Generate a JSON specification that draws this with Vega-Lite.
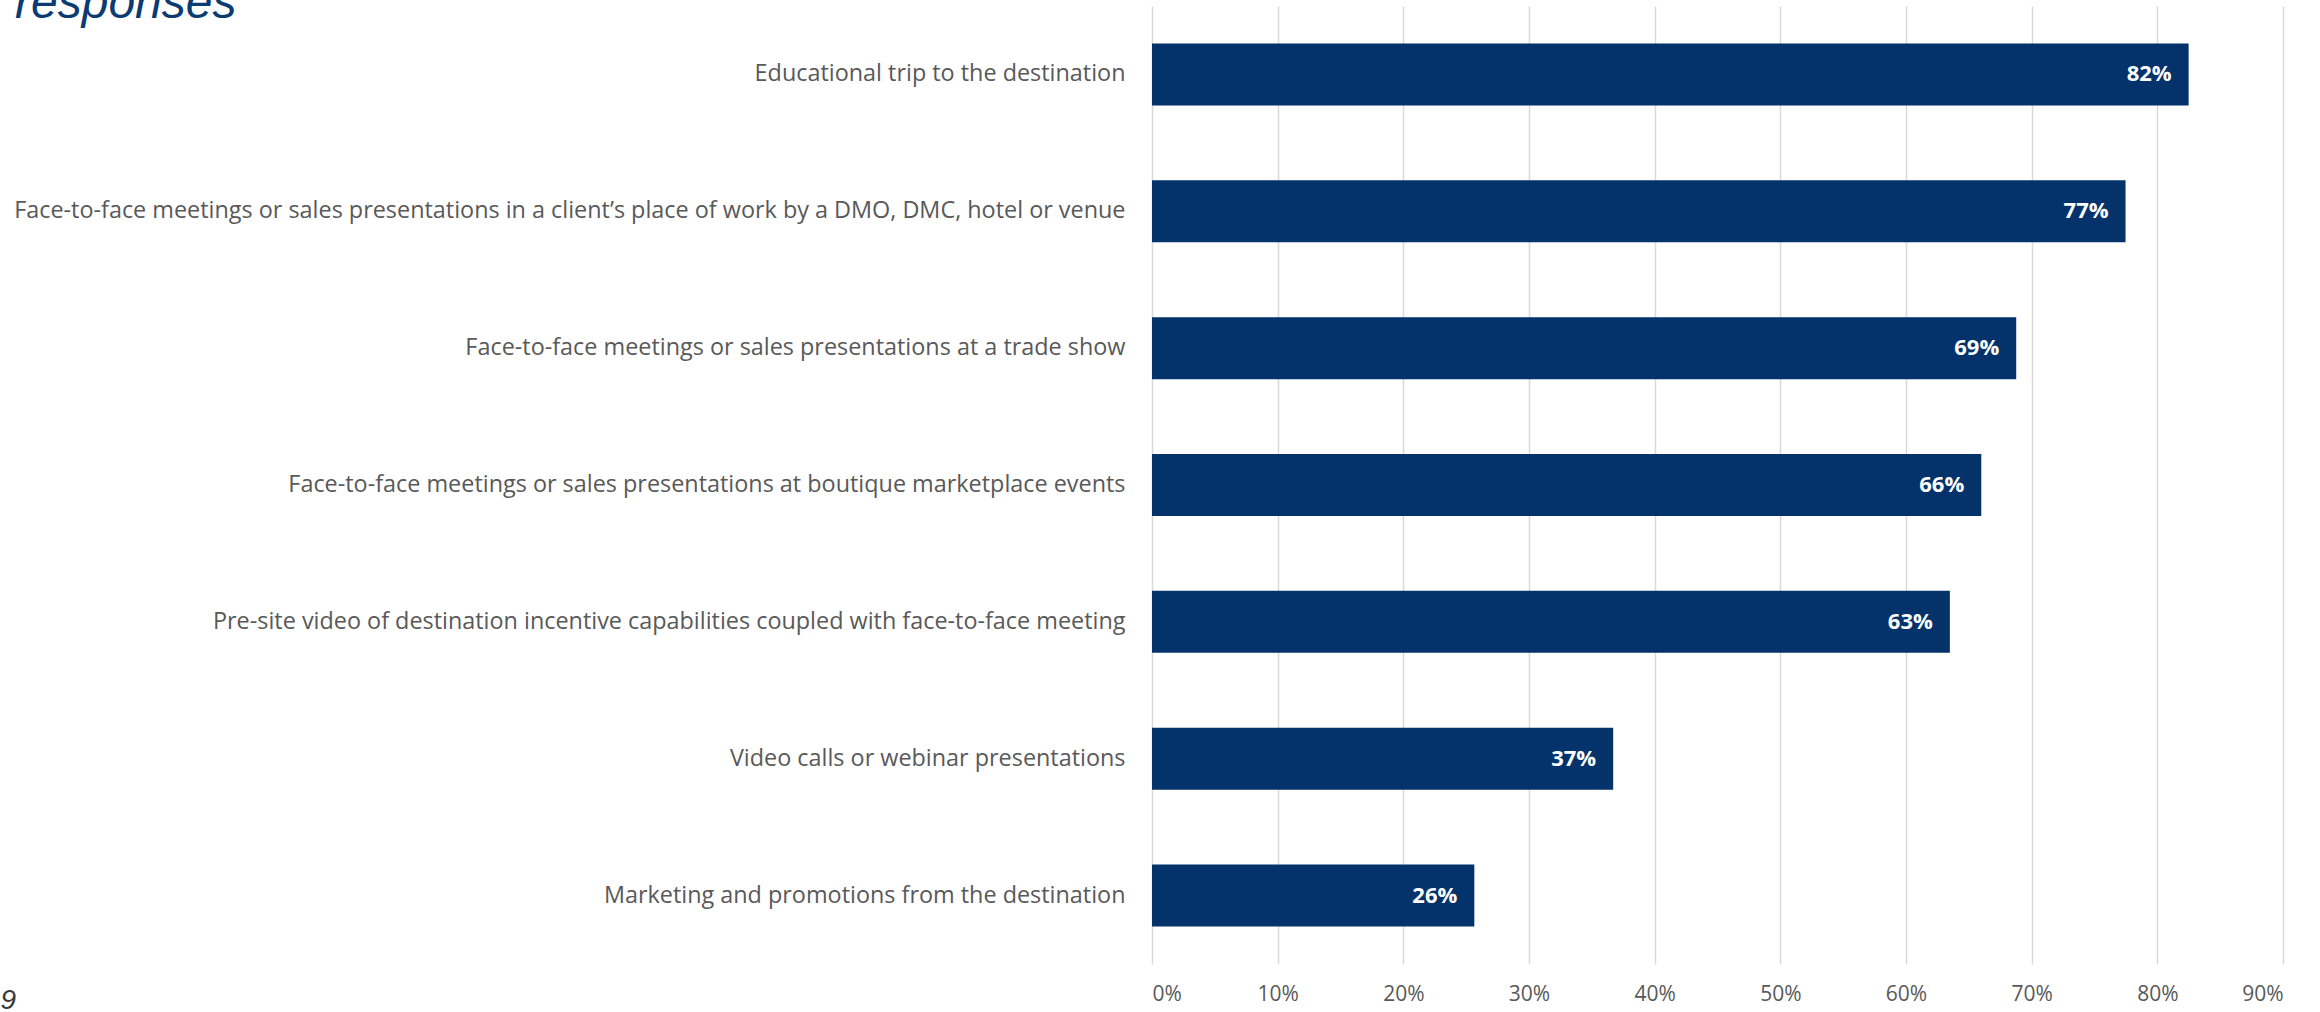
{
  "$schema": "https://vega.github.io/schema/vega-lite/v6.json",
  "autosize": {"type": "none"},
  "width": 1131,
  "height": 958,
  "padding": {"left": 1152, "top": 6, "right": 37, "bottom": 48},
  "background": "white",
  "config": {"view": {"stroke": null}},
  "title": {
    "text": "responses",
    "anchor": "start",
    "frame": "group",
    "orient": "top",
    "offset": 0,
    "dx": -1137,
    "dy": 60,
    "baseline": "alphabetic",
    "font": "Liberation Sans",
    "fontSize": 48,
    "fontStyle": "italic",
    "fontWeight": "normal",
    "color": "#0b3b72"
  },
  "data": {
    "values": [
      {"item": "Educational trip to the destination", "share": 0.8249},
      {"item": "Face-to-face meetings or sales presentations in a client’s place of work by a DMO, DMC, hotel or venue", "share": 0.7747},
      {"item": "Face-to-face meetings or sales presentations at a trade show", "share": 0.6877},
      {"item": "Face-to-face meetings or sales presentations at boutique marketplace events", "share": 0.6599},
      {"item": "Pre-site video of destination incentive capabilities coupled with face-to-face meeting", "share": 0.6349},
      {"item": "Video calls or webinar presentations", "share": 0.367},
      {"item": "Marketing and promotions from the destination", "share": 0.2565}
    ]
  },
  "encoding": {
    "y": {
      "field": "item",
      "type": "nominal",
      "sort": null,
      "scale": {"paddingInner": 0.547, "paddingOuter": 0.2735},
      "axis": {
        "title": null,
        "domain": false,
        "ticks": false,
        "labelFont": "Open Sans",
        "labelFontSize": 23.4,
        "labelColor": "#595959",
        "labelPadding": 27,
        "labelLimit": 1200
      }
    },
    "x": {
      "field": "share",
      "type": "quantitative",
      "scale": {"domain": [0, 0.9], "nice": false},
      "axis": {
        "format": ".0%",
        "values": [0, 0.1, 0.2, 0.3, 0.4, 0.5, 0.6, 0.7, 0.8, 0.9],
        "grid": true,
        "gridColor": "#d9d9d9",
        "gridWidth": 1.5,
        "domain": false,
        "ticks": false,
        "labelFont": "Open Sans",
        "labelFontSize": 21,
        "labelColor": "#595959",
        "labelPadding": 19,
        "title": "9",
        "titleX": -1152,
        "titleY": 44,
        "titleAlign": "left",
        "titleAnchor": null,
        "titleBaseline": "alphabetic",
        "titleAngle": 0,
        "titleFont": "Liberation Sans",
        "titleFontSize": 28,
        "titleFontStyle": "italic",
        "titleFontWeight": "normal",
        "titleColor": "#3a3a3a"
      }
    }
  },
  "layer": [
    {"mark": {"type": "bar", "color": "#03336a"}},
    {
      "mark": {"type": "text", "align": "right", "baseline": "middle", "dx": -17, "color": "white", "fontWeight": "bold", "font": "Open Sans", "fontSize": 22},
      "encoding": {"text": {"field": "share", "format": ".0%"}}
    }
  ]
}
